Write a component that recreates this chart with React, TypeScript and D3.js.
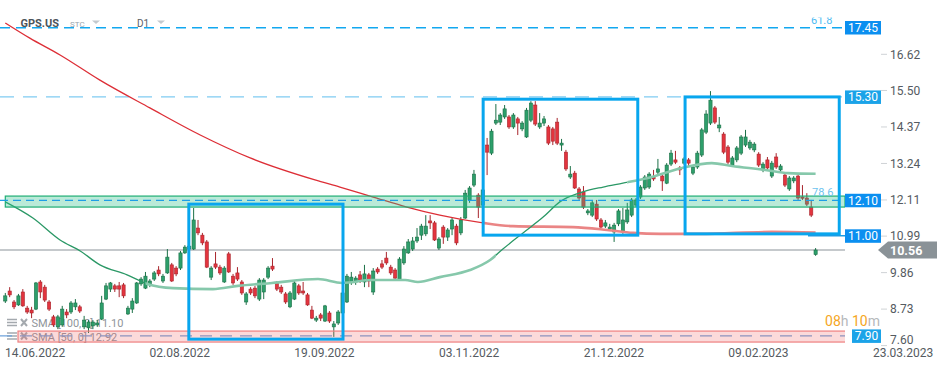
import React from "react";
import * as d3 from "d3";

// [open, high, low, close] per daily candle, GPS.US
const ohlc: [number, number, number, number][] = [
  [8.98,9.23,8.92,9.14],[9.29,9.41,9.10,9.17],[8.95,9.01,8.73,8.80],[8.86,9.20,8.83,9.14],[9.26,9.35,8.80,8.83],
  [8.76,8.83,8.58,8.64],[8.70,8.80,8.45,8.61],[8.73,9.57,8.70,9.54],[9.57,9.63,9.07,9.26],[9.41,9.48,8.95,9.01],
  [8.95,9.01,8.67,8.73],[8.49,8.55,8.18,8.24],[8.18,8.55,8.11,8.49],[8.24,8.83,8.18,8.73],[8.64,8.73,8.45,8.55],
  [8.64,8.98,8.58,8.92],[8.80,9.04,8.70,8.92],[8.80,8.86,8.61,8.67],[8.18,8.52,8.11,8.39],[8.15,8.39,7.99,8.33],
  [8.21,8.39,8.11,8.33],[8.24,8.39,8.18,8.30],[8.42,9.14,8.39,8.92],[9.04,9.54,9.01,9.45],[9.35,9.57,9.26,9.54],
  [9.45,9.51,9.26,9.35],[9.45,9.57,9.10,9.35],[9.48,9.54,9.07,9.14],[8.58,8.83,8.55,8.76],[8.73,9.07,8.61,8.98],
  [8.92,9.57,8.89,9.54],[9.51,9.72,9.45,9.66],[9.38,9.88,9.35,9.75],[9.51,9.66,9.41,9.60],[9.66,9.91,9.60,9.85],
  [9.94,10.06,9.75,9.82],[9.60,9.82,9.54,9.75],[9.85,10.59,9.82,10.34],[10.10,10.16,9.57,9.60],[10.00,10.06,9.75,9.82],
  [10.00,10.53,9.94,10.47],[10.47,10.71,10.44,10.65],[10.59,10.78,10.53,10.68],[10.59,11.86,10.56,11.49],[11.24,11.49,11.02,11.09],
  [11.02,11.09,10.71,10.78],[10.81,10.87,10.00,10.03],[9.72,10.06,9.63,10.00],[10.13,10.50,9.97,10.03],[10.03,10.10,9.79,9.85],
  [9.57,10.06,9.54,10.00],[10.44,10.50,9.85,9.88],[9.75,9.82,9.48,9.54],[9.85,10.03,9.60,9.66],[9.57,9.63,9.17,9.23],
  [8.95,9.26,8.86,9.20],[9.35,9.41,9.17,9.23],[9.38,9.45,9.07,9.14],[9.04,9.69,8.98,9.63],[9.26,9.69,9.04,9.63],
  [9.72,10.06,9.66,10.00],[10.06,10.31,9.91,9.97],[9.54,9.60,9.29,9.35],[9.41,9.48,9.20,9.26],[9.20,9.26,8.89,8.95],
  [8.80,9.29,8.76,9.23],[9.04,9.60,9.01,9.54],[9.45,9.51,9.17,9.23],[9.29,9.57,9.17,9.23],[9.17,9.23,8.83,8.86],
  [8.70,8.83,8.42,8.45],[8.39,8.52,8.33,8.45],[8.55,8.61,8.36,8.45],[8.36,8.86,8.33,8.83],[8.61,8.67,8.30,8.36],
  [8.18,8.36,7.87,8.27],[8.30,8.70,8.24,8.64],[8.61,9.32,8.55,9.23],[8.95,9.82,8.92,9.75],[9.57,9.88,9.48,9.72],
  [9.57,9.75,9.48,9.69],[9.79,9.91,9.54,9.63],[9.57,10.10,9.41,9.82],[9.79,9.85,9.41,9.60],[9.26,10.00,9.17,9.91],
  [9.97,10.03,9.82,9.88],[10.13,10.25,9.97,10.03],[10.31,10.50,10.10,10.16],[10.03,10.10,9.79,9.85],[9.94,10.00,9.66,9.69],
  [9.66,10.34,9.63,10.28],[10.16,10.68,10.10,10.59],[10.47,10.90,10.44,10.81],[10.59,10.96,10.53,10.84],[10.84,11.24,10.78,10.96],
  [11.02,11.37,10.87,11.30],[11.06,11.64,10.99,11.30],[11.46,11.64,11.21,11.40],[11.40,11.46,10.84,10.87],[10.62,10.96,10.56,10.90],
  [11.27,11.33,10.75,10.96],[10.96,11.24,10.84,11.18],[11.21,11.55,11.02,11.49],[11.30,11.37,10.71,10.78],[11.09,11.58,11.02,11.49],
  [11.55,12.42,11.52,12.32],[12.11,12.54,12.02,12.48],[12.57,13.04,12.51,12.91],[12.26,12.32,11.55,11.89],[11.95,12.51,11.86,12.42],
  [13.81,14.03,12.88,13.59],[13.56,14.31,13.50,14.24],[14.49,15.08,14.43,14.58],[14.52,14.80,14.43,14.74],[14.68,15.05,14.62,14.93],
  [14.68,14.74,14.31,14.37],[14.37,14.80,14.31,14.74],[14.62,14.68,14.12,14.49],[14.31,14.55,14.24,14.49],[14.06,14.96,14.03,14.89],
  [14.58,15.17,14.52,15.11],[15.05,15.17,14.40,14.46],[14.37,14.80,14.31,14.49],[14.49,14.71,14.40,14.62],[14.37,14.43,13.81,13.87],
  [14.31,14.37,13.81,13.93],[14.52,14.65,13.81,13.87],[13.81,14.00,13.63,13.87],[13.59,13.66,13.01,13.07],[12.82,13.16,12.76,12.91],
  [12.94,13.01,12.45,12.48],[12.45,12.51,12.11,12.17],[12.36,12.54,11.83,11.89],[11.71,11.83,11.64,11.77],[11.64,12.08,11.58,12.02],
  [11.98,12.11,11.46,11.52],[11.49,11.55,11.24,11.27],[11.30,11.49,11.24,11.40],[11.21,11.37,11.15,11.27],[11.12,11.40,10.81,11.33],
  [11.37,11.83,11.30,11.77],[11.12,11.86,11.06,11.49],[11.43,12.02,11.37,11.80],[11.64,12.17,11.58,12.11],[11.95,12.17,11.89,12.11],
  [12.20,12.57,12.14,12.51],[12.48,12.88,12.42,12.82],[12.51,12.97,12.45,12.91],[12.82,13.04,12.70,12.76],[12.97,13.38,12.88,13.07],
  [12.85,12.94,12.39,12.70],[12.63,13.25,12.60,13.19],[13.22,13.66,13.16,13.56],[13.35,13.63,13.22,13.28],[13.10,13.16,12.88,13.04],
  [13.25,13.44,13.19,13.38],[13.35,13.41,13.13,13.25],[12.94,13.19,12.88,13.13],[13.13,13.63,13.07,13.56],[13.50,14.34,13.44,14.28],
  [14.21,14.89,14.15,14.77],[14.49,15.48,14.43,15.20],[14.96,15.02,14.46,14.52],[14.34,14.68,14.21,14.43],[14.15,14.21,13.53,13.59],
  [13.75,13.81,13.22,13.28],[13.19,13.47,13.13,13.41],[13.35,13.78,13.28,13.72],[13.56,14.12,13.50,14.06],[13.81,14.28,13.75,14.06],
  [13.72,13.97,13.66,13.90],[13.66,13.90,13.59,13.84],[13.53,13.59,13.13,13.19],[13.04,13.28,12.97,13.22],[13.35,13.44,13.04,13.10],
  [12.85,13.32,12.79,13.25],[13.44,13.56,13.07,13.13],[13.04,13.22,12.97,13.16],[12.88,12.94,12.51,12.57],[12.45,12.85,12.39,12.79],
  [12.70,12.85,12.63,12.79],[12.85,12.91,12.11,12.17],[12.20,12.57,12.11,12.17],[12.17,12.32,11.92,11.98],[11.89,12.11,11.58,11.64],
  [10.42,10.62,10.38,10.56],
];

// SMA lines: [candle index, value]
const sma100: [number, number][] = [
  [0,17.59],[5.6,17.12],[12.5,16.60],[21.6,15.82],[33,14.96],[44.5,14.12],[55.9,13.41],[70.7,12.73],[76.4,12.51],
  [84,12.20],[91.7,11.89],[99.2,11.64],[109.1,11.40],[115.9,11.30],[129.6,11.27],[137.4,11.18],[143.3,11.09],
  [149.5,11.06],[158.6,11.06],[175,11.12],[185,11.10],
];
const sma50: [number, number][] = [
  [0,12.05],[6.3,11.55],[12.5,10.87],[17.1,10.53],[21.6,10.10],[27.8,9.79],[32.4,9.51],[38.3,9.38],[47.4,9.35],
  [53.1,9.45],[60.9,9.54],[71.4,9.66],[76.9,9.54],[83.7,9.63],[91.3,9.63],[94.2,9.57],[99.2,9.72],[106.1,9.94],
  [110.7,10.25],[113.6,10.59],[118.2,11.09],[122.8,11.58],[126.6,12.05],[131.9,12.36],[136.5,12.51],[141,12.63],
  [146.7,12.79],[154.5,13.10],[161.3,13.25],[165.9,13.16],[173.5,13.04],[178.7,12.94],[185,12.92],
];

const yTicks = [16.62, 15.50, 14.37, 13.24, 12.11, 10.99, 9.86, 8.73, 7.60];
const xTickLabels = ["14.06.2022", "02.08.2022", "19.09.2022", "03.11.2022", "21.12.2022", "09.02.2023", "23.03.2023"];
const xTickFirst = 6.8;
const xTickStep = 33.03;

// rectangles drawn on the chart: [start index, end index, top price, bottom price]
const boxes: [number, number, number, number][] = [
  [41.9, 77.1, 11.98, 7.80],
  [109.1, 144.4, 15.23, 11.02],
  [155.2, 190.4, 15.30, 11.06],
];
// zones: [top, bottom, start index]
const greenZone = [12.23, 11.89, 0];
const redZone = [8.05, 7.71, 2.9];

const priceTags: [string, number, string][] = [
  ["17.45", 17.45, "#0b8ff0"],
  ["15.30", 15.30, "#1ba3e8"],
  ["12.10", 12.10, "#0b8ff0"],
  ["11.00", 11.00, "#0b8ff0"],
  ["7.90", 7.90, "#1ba3e8"],
];
const lastPrice = 10.56;

const GREEN = "#2d9f6b", GREEN_D = "#1b7047", RED = "#e3343e", RED_D = "#a8262d";

export default function App() {
  const x = d3.scaleLinear().domain([0, ohlc.length - 1]).range([5.3, 815.6]);
  const y = d3.scaleLinear().domain([7.6, 17.45]).range([345.6, 27.5]);
  const plotR = 845;
  const line = d3
    .line<[number, number]>()
    .x((d) => x(d[0]))
    .y((d) => y(d[1]))
    .curve(d3.curveMonotoneX);
  const red = line(sma100) || "";
  const grn = line(sma50) || "";
  const font = "Roboto, 'Noto Sans', sans-serif";

  const clip = (id: string, a: number, b: number) => (
    <clipPath id={id} key={id}>
      <rect x={a} y={0} width={b - a} height={370} />
    </clipPath>
  );

  return (
    <svg
      width={949}
      height={370}
      style={{ position: "absolute", left: 0, top: 0, background: "#fff", fontFamily: font }}
    >
      <defs>
        <clipPath id="plot">
          <rect x={0} y={17.5} width={plotR} height={335} />
        </clipPath>
        {clip("rA", 0, x(109))}
        {clip("rB", x(109), plotR)}
        {clip("gA", 0, x(32))}
        {clip("gB", x(32), x(112))}
        {clip("gC", x(112), x(142))}
        {clip("gD", x(142), plotR)}
      </defs>
      <rect x={0} y={0} width={949} height={370} fill="#fff" />

      {/* header */}
      <text x={20.5} y={27} fontSize={11} fontWeight={700} fill="#4d545a">GPS.US</text>
      <text x={70} y={26.5} fontSize={8} fill="#9aa4ad">STC</text>
      <path d="M92,20.5 L100,20.5 L96,24 Z" fill="#c3c9ce" />
      <text x={137} y={26.5} fontSize={10} fill="#5a6066">D1</text>
      <path d="M157,20.5 L165,20.5 L161,24 Z" fill="#c3c9ce" />

      <g clipPath="url(#plot)">
        {/* level lines */}
        <line x1={0} x2={plotR} y1={y(17.45) + 0.3} y2={y(17.45) + 0.3} stroke="#12a8f0" strokeWidth={1.5} strokeDasharray="10,6" />
        <text x={811} y={23.5} fontSize={11} fill="#4dbaf2">61.8</text>
        <line x1={0} x2={plotR} y1={y(15.3)} y2={y(15.3)} stroke="#80cbf2" strokeWidth={1.2} strokeDasharray="14,9" />
        <line x1={0} x2={880} y1={y(lastPrice)} y2={y(lastPrice)} stroke="#8b9399" strokeWidth={1} />

        {/* legend under candles */}
        <g fill="none" stroke="#a4a9ae" strokeWidth={1.4}>
          <path d="M7,319.5H17M7,322.5H17M7,325.5H17" />
          <path d="M21,319L27,326M27,319L21,326" strokeWidth={2} />
          <path d="M7,333H17M7,336H17M7,339H17" />
          <path d="M21,332.5L27,339.5M27,332.5L21,339.5" strokeWidth={2} />
        </g>
        <text x={31.5} y={327} fontSize={11} fill="#8f959a">SMA [100, 0] 11.10</text>
        <text x={31.5} y={341} fontSize={11} fill="#8f959a">SMA [50, 0] 12.92</text>

        {/* candles */}
        {ohlc.map(([o, h, l, c], i) => {
          const up = c >= o;
          const cx = x(i);
          const top = y(Math.max(o, c));
          const bot = y(Math.min(o, c));
          return (
            <g key={i}>
              <line x1={cx} x2={cx} y1={y(h)} y2={y(l)} stroke={up ? GREEN_D : RED_D} strokeWidth={1} />
              <rect
                x={cx - 1.6}
                y={top}
                width={3.2}
                height={Math.max(1.2, bot - top)}
                fill={up ? GREEN : RED}
                stroke={up ? GREEN_D : RED_D}
                strokeWidth={0.6}
              />
            </g>
          );
        })}

        {/* SMA lines */}
        <path d={red} fill="none" stroke="#dd2f37" strokeWidth={1.3} clipPath="url(#rA)" />
        <path d={red} fill="none" stroke="#ea8585" strokeWidth={2.6} clipPath="url(#rB)" />
        <path d={grn} fill="none" stroke="#2b9866" strokeWidth={1.3} clipPath="url(#gA)" />
        <path d={grn} fill="none" stroke="#86c8ab" strokeWidth={2.6} clipPath="url(#gB)" />
        <path d={grn} fill="none" stroke="#2b9866" strokeWidth={1.3} clipPath="url(#gC)" />
        <path d={grn} fill="none" stroke="#86c8ab" strokeWidth={2.6} clipPath="url(#gD)" />

        {/* zones */}
        <rect
          x={x(greenZone[2])}
          y={y(greenZone[0])}
          width={plotR - x(greenZone[2])}
          height={y(greenZone[1]) - y(greenZone[0])}
          fill="#2fc08a"
          fillOpacity={0.33}
          stroke="#1fae74"
          strokeWidth={1.2}
        />
        <line x1={0} x2={plotR} y1={y(12.1)} y2={y(12.1)} stroke="#1e9ee6" strokeWidth={1.2} strokeDasharray="8,5" />
        <text x={812} y={196} fontSize={11} fill="#6cc3ef">78.6</text>

        <line x1={0} x2={852} y1={y(7.9)} y2={y(7.9)} stroke="#6fa3dc" strokeWidth={1.2} strokeDasharray="12,8" />
        <rect
          x={x(redZone[2])}
          y={y(redZone[0])}
          width={852 - x(redZone[2])}
          height={y(redZone[1]) - y(redZone[0])}
          fill="#f06464"
          fillOpacity={0.24}
          stroke="#ef8080"
          strokeWidth={1.2}
        />

        {/* boxes */}
        {boxes.map(([a, b, t, bt], i) => (
          <rect
            key={i}
            x={x(a)}
            y={y(t)}
            width={x(b) - x(a)}
            height={y(bt) - y(t)}
            fill="none"
            stroke="#08a6ee"
            strokeWidth={3}
          />
        ))}
        <line x1={808} x2={plotR} y1={y(11.0)} y2={y(11.0)} stroke="#1c9ce4" strokeWidth={1.5} />
      </g>

      {/* right axis */}
      {yTicks.map((t) => {
        const ty = Math.min(y(t), 339.5);
        return (
          <g key={t}>
            <line x1={881} x2={887} y1={y(t)} y2={y(t)} stroke="#cfd3d6" strokeWidth={1} />
            <text x={890} y={ty} dy="0.36em" fontSize={12} fill="#555b61">
              {t.toFixed(2)}
            </text>
          </g>
        );
      })}

      {/* price tags */}
      {priceTags.map(([label, v, col]) => {
        const w = label.length > 4 ? 36 : 29;
        return (
          <g key={label}>
            <rect x={881 - w} y={y(v) - 6.5} width={w} height={13.5} fill={col} />
            <text x={881 - w / 2} y={y(v)} dy="0.36em" textAnchor="middle" fontSize={12} fill="#fff">
              {label}
            </text>
          </g>
        );
      })}
      <path
        d={`M878,${y(lastPrice)} L888,${y(lastPrice) - 8.5} L937,${y(lastPrice) - 8.5} L937,${y(lastPrice) + 8.5} L888,${y(lastPrice) + 8.5} Z`}
        fill="#8a9297"
      />
      <text x={890} y={y(lastPrice)} dy="0.37em" fontSize={12.5} fontWeight={700} fill="#fff">
        {lastPrice.toFixed(2)}
      </text>

      <text x={880} y={326} textAnchor="end" fontSize={14}>
        <tspan fill="#f5a623">08</tspan>
        <tspan fill="#b5b8bb">h </tspan>
        <tspan fill="#f5a623">10</tspan>
        <tspan fill="#b5b8bb">m</tspan>
      </text>

      {/* x axis labels */}
      {xTickLabels.map((lab, k) => (
        <text key={lab} x={x(xTickFirst + k * xTickStep)} y={357} textAnchor="middle" fontSize={12} fill="#555b61">
          {lab}
        </text>
      ))}
    </svg>
  );
}
